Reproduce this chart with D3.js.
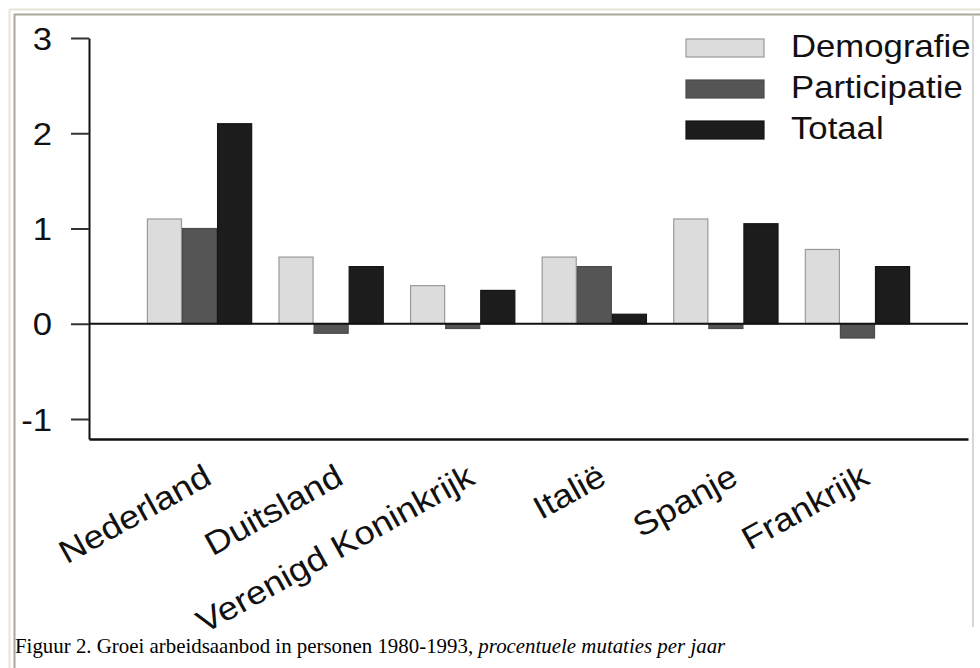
<!DOCTYPE html>
<html>
<head>
<meta charset="utf-8">
<script src="https://cdn.jsdelivr.net/npm/d3@7"></script>
<style>
  body { margin: 0; background: #fff; }
  svg { display: block; }
</style>
</head>
<body>
<svg id="chart" width="980" height="668"></svg>
<script>
// data (procentuele mutaties per jaar)
const countries = ['Nederland', 'Duitsland', 'Verenigd Koninkrijk', 'Italië', 'Spanje', 'Frankrijk']
const series = ['Demografie', 'Participatie', 'Totaal']
const demografie = [1.1, 0.7, 0.4, 0.7, 1.1, 0.78]
const participatie = [1.0, -0.1, -0.05, 0.6, -0.05, -0.15]
const totaal = [2.1, 0.6, 0.35, 0.1, 1.05, 0.6]
const yTicks = [-1, 0, 1, 2, 3]
const caption = 'Figuur 2. Groei arbeidsaanbod in personen 1980-1993,'
const captionItalic = 'procentuele mutaties per jaar'

const values = { Demografie: demografie, Participatie: participatie, Totaal: totaal }
const fills = { Demografie: '#dcdcdc', Participatie: '#555555', Totaal: '#1c1c1c' }
const strokes = { Demografie: '#9a9a9a', Participatie: '#4a4a4a', Totaal: '#151515' }

const rows = countries.map((c, i) => ({
	country: c,
	bars: series.map(s => ({ key: s, value: values[s][i] }))
}))

const svg = d3.select('#chart')
const font = 'Liberation Sans, Arial, Helvetica, sans-serif'
const stretch = 'scale(1.12,1)'

// page frame (html table border look)
svg.append('rect').attr('x', 0).attr('y', 0).attr('width', 980).attr('height', 668).attr('fill', '#fff')
svg.append('line').attr('x1', 9.5).attr('x2', 9.5).attr('y1', 9).attr('y2', 668).attr('stroke', '#e8e4d6').attr('stroke-width', 2)
svg.append('line').attr('x1', 9).attr('x2', 980).attr('y1', 9.5).attr('y2', 9.5).attr('stroke', '#e8e4d6').attr('stroke-width', 2)
svg.append('line').attr('x1', 14.5).attr('x2', 14.5).attr('y1', 14).attr('y2', 668).attr('stroke', '#aca899').attr('stroke-width', 2)
svg.append('line').attr('x1', 14).attr('x2', 980).attr('y1', 14.5).attr('y2', 14.5).attr('stroke', '#aca899').attr('stroke-width', 2)
svg.append('line').attr('x1', 973).attr('x2', 973).attr('y1', 15).attr('y2', 627).attr('stroke', '#c8c8c8').attr('stroke-width', 1.5)

const plotLeft = 89, plotRight = 968, plotTop = 38, plotBottom = 439

const yScale = d3.scaleLinear().domain([-1.21, 3]).range([plotBottom, plotTop])
const xScale = d3.scaleBand().domain(countries).range([plotLeft, plotRight])
	.paddingInner(0.2).paddingOuter(0.44)
const xInner = d3.scaleBand().domain(series).range([0, xScale.bandwidth()])

// y axis
let leftAxisG = svg.append('g')
	.attr('id', 'left-axis')
	.attr('transform', `translate(${plotLeft}, 0)`)
leftAxisG.call(d3.axisLeft(yScale).tickValues(yTicks).tickSize(18).tickSizeOuter(0).tickPadding(19).tickFormat(d => String(d)))
leftAxisG.select('.domain').attr('stroke', '#111').attr('stroke-width', 2)
leftAxisG.selectAll('.tick line').attr('stroke', '#333').attr('stroke-width', 2)
leftAxisG.selectAll('.tick text')
	.attr('font-family', font).attr('font-size', 31).attr('fill', '#111')
	.attr('dy', '0.36em')
	.attr('transform', function () { const x = +d3.select(this).attr('x'); return `translate(${x},0) ${stretch} translate(${-x},0)` })

// bottom axis with slanted labels
let bottomAxisG = svg.append('g')
	.attr('id', 'bottom-axis')
	.attr('transform', `translate(0, ${plotBottom})`)
bottomAxisG.call(d3.axisBottom(xScale).tickSize(0).tickSizeOuter(0))
bottomAxisG.select('.domain').attr('stroke', '#111').attr('stroke-width', 2.5)
bottomAxisG.selectAll('.tick text')
	.attr('font-family', font).attr('font-size', 32.5).attr('fill', '#111')
	.attr('text-anchor', 'end').attr('x', 0).attr('y', 0).attr('dy', 0)
	.attr('transform', `translate(14, 44) rotate(-29) ${stretch}`)

// bars
let groups = svg.append('g').attr('id', 'bars')
	.selectAll('g')
	.data(rows)
	.enter()
	.append('g')
	.attr('transform', d => `translate(${xScale(d.country)}, 0)`)

groups.selectAll('rect')
	.data(d => d.bars)
	.enter()
	.append('rect')
	.attr('x', d => xInner(d.key) + 0.5)
	.attr('width', xInner.bandwidth() - 1)
	.attr('y', d => Math.min(yScale(d.value), yScale(0)))
	.attr('height', d => Math.abs(yScale(d.value) - yScale(0)))
	.attr('fill', d => fills[d.key])
	.attr('stroke', d => strokes[d.key])
	.attr('stroke-width', 1.2)

// zero line
svg.append('line')
	.attr('x1', plotLeft).attr('x2', plotRight)
	.attr('y1', yScale(0)).attr('y2', yScale(0))
	.attr('stroke', '#111').attr('stroke-width', 2)

// legend
const legendY = d3.scalePoint().domain(series).range([39, 121])
let legend = svg.append('g').attr('id', 'legend')
let items = legend.selectAll('g')
	.data(series)
	.enter()
	.append('g')
	.attr('transform', d => `translate(686, ${legendY(d)})`)
items.append('rect')
	.attr('width', 78).attr('height', 18)
	.attr('fill', d => fills[d]).attr('stroke', d => strokes[d]).attr('stroke-width', 1.2)
items.append('text')
	.text(d => d)
	.attr('font-family', font).attr('font-size', 31).attr('fill', '#111')
	.attr('transform', `translate(105, 18) ${stretch}`)

// caption
let cap = svg.append('text')
	.attr('transform', 'translate(15, 653) scale(0.95,1)')
	.attr('font-family', 'Liberation Serif, Times New Roman, serif')
	.attr('font-size', 22).attr('fill', '#000')
cap.append('tspan').text(caption + ' ')
cap.append('tspan').attr('font-style', 'italic').text(captionItalic)
</script>
</body>
</html>
